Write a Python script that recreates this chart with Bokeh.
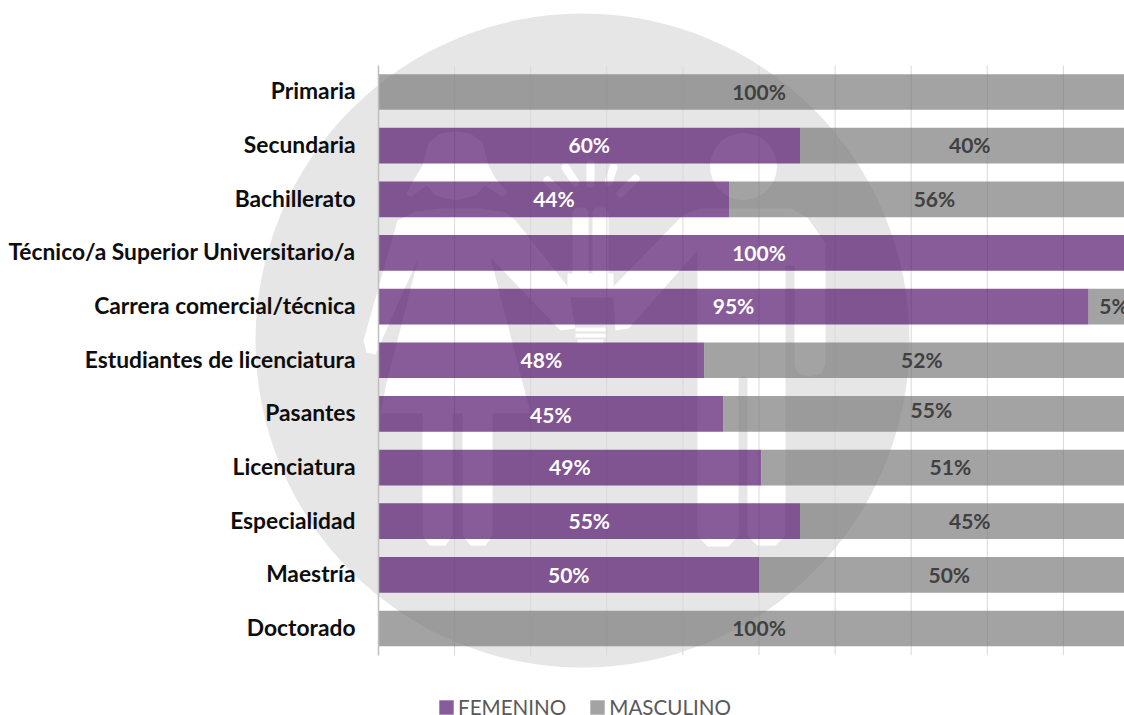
from bokeh.plotting import figure
from bokeh.models import (ColumnDataSource, Range1d, FixedTicker, Legend, LegendItem)
from bokeh.core.properties import value
from bokeh.embed import file_html
from bokeh.resources import INLINE

categories = ["Primaria", "Secundaria", "Bachillerato", "Técnico/a Superior Universitario/a",
              "Carrera comercial/técnica", "Estudiantes de licenciatura", "Pasantes",
              "Licenciatura", "Especialidad", "Maestría", "Doctorado"]
# bar lengths as drawn in the picture (they differ slightly from the printed labels)
femenino_bar = [0, 55.4, 46.1, 100, 93.3, 42.8, 45.3, 50.3, 55.4, 50, 0]
masculino_bar = [100, 44.6, 53.9, 0, 6.7, 57.2, 54.7, 49.7, 44.6, 50, 100]
femenino_labels = ["", "60%", "44%", "100%", "95%", "48%", "45%", "49%", "55%", "50%", ""]
masculino_labels = ["100%", "40%", "56%", "", "5%", "52%", "55%", "51%", "45%", "50%", "100%"]
label_shift_f = [0, 0, 0, 0, 0, 0, 0.02, 0, 0, 0, 0]
label_shift_m = [0, 0, 0, 0, 0, 0, -0.07, 0, 0, 0, 0]
grid_ticks = [0, 10, 20, 30, 40, 50, 60, 70, 80, 90, 100]

W, H = 1124, 715
X0, PX_PER_PCT = 378.0, 7.61
Y0, PX_PER_CAT = 91.5, 53.65
FONT = "Lato"

p = figure(width=W, height=H, output_backend="svg", toolbar_location=None,
           x_range=Range1d(-X0 / PX_PER_PCT, (W - X0) / PX_PER_PCT),
           y_range=Range1d((H - Y0) / PX_PER_CAT, -Y0 / PX_PER_CAT),
           x_axis_location=None, min_border=0, min_border_left=0, min_border_right=0,
           min_border_top=0, min_border_bottom=0, outline_line_color=None)
p.extra_x_ranges = {"px": Range1d(0, W)}
p.extra_y_ranges = {"py": Range1d(H, 0)}
p.grid.visible = False

# ---- watermark (decorative, screen-pixel coordinates)
px = dict(x_range_name="px", y_range_name="py")
p.circle([582], [340], radius=327, fill_color="#e6e6e6", line_color=None, **px)

woman_head = ([455, 440, 428, 422, 413, 406, 410, 426, 435, 455, 475, 484, 502, 507, 495, 488, 482, 470],
              [131, 133, 142, 165, 180, 193, 197, 185, 195, 200, 195, 185, 196, 192, 178, 165, 142, 133])
woman_body = ([440, 480, 505, 515, 568, 575, 560, 490, 530, 492, 492, 485, 470, 462, 462, 452, 452, 445, 429,
               422, 422, 380, 385, 418, 375, 366, 363, 397, 415],
              [208, 208, 212, 220, 287, 328, 330, 257, 413, 413, 535, 545, 545, 535, 413, 413, 535, 545, 545,
               535, 413, 413, 387, 257, 354, 352, 340, 220, 211])
man_body = ([700, 790, 807, 825, 825, 820, 809, 798, 794, 794, 785, 785, 775, 757, 747, 747, 743, 738, 738, 728,
             707, 697, 697, 628, 615, 612, 683],
            [208, 208, 217, 243, 365, 373, 376, 373, 365, 265, 265, 535, 545, 545, 535, 378, 375, 378, 535, 546,
             546, 535, 250, 328, 330, 287, 214])
torch_l = ([572, 575, 585, 588, 588, 572], [212, 207, 207, 212, 275, 275])
torch_r = ([592, 595, 605, 608, 608, 592], [212, 207, 207, 212, 275, 275])
torch_block = ([567, 613, 613, 567], [273, 273, 297, 297])
p.patches([woman_head[0], woman_body[0], man_body[0], torch_l[0], torch_r[0], torch_block[0]],
          [woman_head[1], woman_body[1], man_body[1], torch_l[1], torch_r[1], torch_block[1]],
          fill_color="white", line_color=None, **px)
p.circle([743], [166], radius=33.5, fill_color="white", line_color=None, **px)
p.segment([590, 565, 613, 635, 547], [163, 167, 167, 178, 180],
          [590, 575, 608, 620, 560], [183, 182, 182, 193, 193],
          line_color="white", line_width=8, line_cap="round", **px)
p.quad(left=[575, 575, 577], right=[605, 605, 603], top=[327, 333, 339], bottom=[331, 337, 343],
       fill_color="white", line_color=None, **px)

# ---- gridlines
p.segment(x0=grid_ticks, x1=grid_ticks, y0=[-0.494] * len(grid_ticks), y1=[10.5] * len(grid_ticks),
          line_color="#d9d9d9", line_width=1)

# ---- bars
idx = list(range(len(categories)))
src = ColumnDataSource(dict(
    y=idx, fem=femenino_bar, masc=masculino_bar,
    masc_left=femenino_bar,
    masc_right=[f + m for f, m in zip(femenino_bar, masculino_bar)],
    zero=[0] * len(idx),
    fem_mid=[f / 2 for f in femenino_bar],
    masc_mid=[f + m / 2 for f, m in zip(femenino_bar, masculino_bar)],
    fem_y=[i - 0.015 + s for i, s in zip(idx, label_shift_f)],
    masc_y=[i - 0.015 + s for i, s in zip(idx, label_shift_m)],
    fem_txt=femenino_labels, masc_txt=masculino_labels))

BAR_H = 0.665
r_f = p.hbar(y="y", left="zero", right="fem", height=BAR_H, source=src,
             fill_color="#4a0664", fill_alpha=0.66, line_color=None)
r_m = p.hbar(y="y", left="masc_left", right="masc_right", height=BAR_H, source=src,
             fill_color="#747474", fill_alpha=0.66, line_color=None)

p.text(x="fem_mid", y="fem_y", text="fem_txt", source=src, text_color="white",
       text_font=value(FONT), text_font_style="bold", text_font_size="21px",
       text_align="center", text_baseline="middle")
p.text(x="masc_mid", y="masc_y", text="masc_txt", source=src, text_color="#404040",
       text_font=value(FONT), text_font_style="bold", text_font_size="21px",
       text_align="center", text_baseline="middle")

# ---- category axis (ticks nudged so the label text sits level with the reference)
ax = p.yaxis[0]
ax.fixed_location = 0
tick_pos = [i - 0.03 for i in idx]
ax.ticker = FixedTicker(ticks=tick_pos)
ax.major_label_overrides = dict(zip(tick_pos, categories))
ax.bounds = (-0.494, 10.5)
ax.axis_line_color = "#bfbfbf"
ax.axis_line_width = 1.5
ax.major_tick_line_color = None
ax.minor_tick_line_color = None
ax.major_tick_in = 0
ax.major_tick_out = 0
ax.major_label_standoff = 23
ax.major_label_text_font = FONT
ax.major_label_text_font_style = "bold"
ax.major_label_text_font_size = "22.8px"
ax.major_label_text_color = "#0d0d0d"

# ---- legend
legend = Legend(items=[LegendItem(label="FEMENINO", renderers=[r_f]),
                       LegendItem(label="MASCULINO", renderers=[r_m])],
                orientation="horizontal", location=(437, -4),
                border_line_color=None, background_fill_alpha=0, padding=0, margin=0,
                glyph_width=18, glyph_height=18, label_standoff=3, spacing=22,
                label_text_font=FONT, label_text_font_size="20.6px", label_text_color="#595959",
                label_height=14)
p.add_layout(legend, "center")

open("out.html", "w").write(file_html(p, INLINE))
